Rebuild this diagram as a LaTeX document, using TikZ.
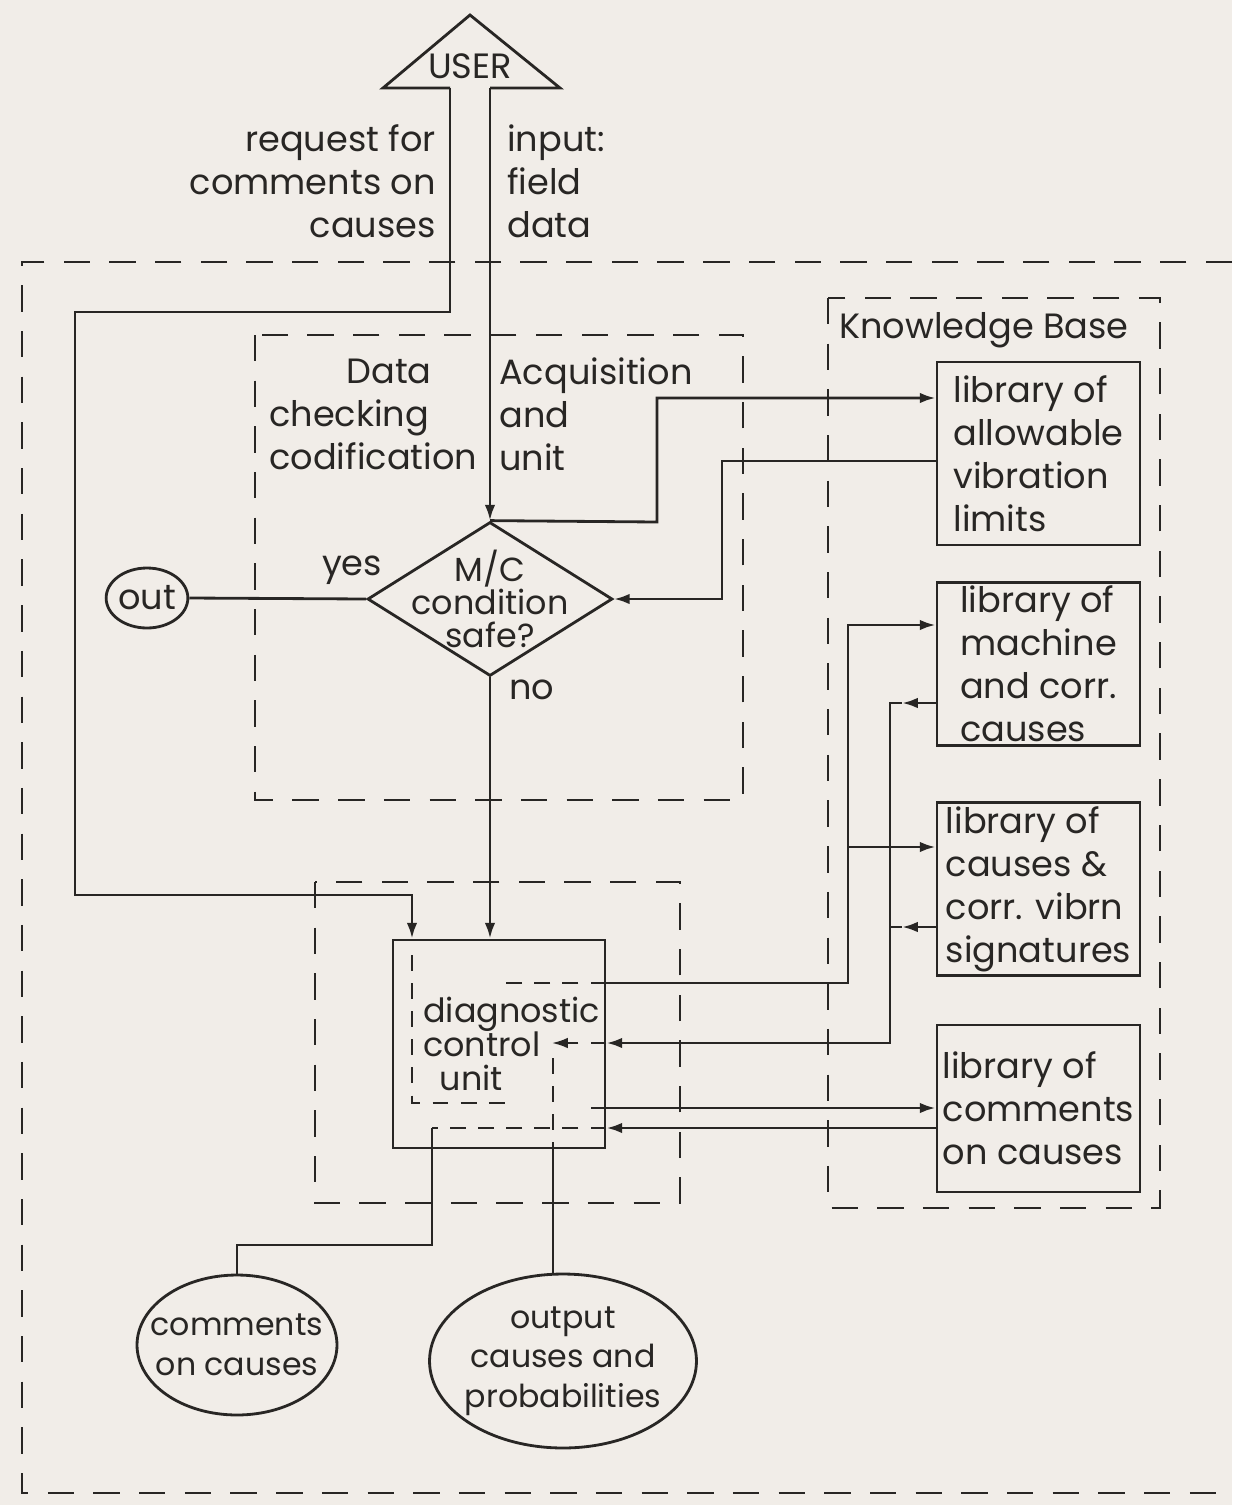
\documentclass[tikz,border=0pt]{standalone}
\usepackage{fontspec}
\setmainfont{Poppins}
\usetikzlibrary{arrows.meta,shapes.geometric,calc}
\definecolor{papier}{RGB}{241,237,232}
\definecolor{encre}{RGB}{40,38,36}

\begin{document}
\begin{tikzpicture}[x=0.02cm,y=-0.02cm,line width=1.6pt,color=encre,
    font=\fontsize{20}{24.5}\selectfont,
    flow/.style={-{Latex[length=9pt,width=6pt]}},
    cadre/.style={dash pattern=on 15pt off 11pt},
    interne/.style={line width=1.2pt,dash pattern=on 9pt off 7pt},
    biblio/.style={draw,minimum width=4.06cm,align=left,inner sep=2pt},
    ovale/.style={draw,ellipse,align=center,inner sep=-12pt,font=\fontsize{18}{22.5}\selectfont}]
  \fill[papier] (0,0) rectangle (1232,1505);
  \useasboundingbox (0,0) rectangle (1232,1505);

  \draw (450,88) -- (383,88) -- (470,15) -- (560,88) -- (490,88);
  \node (user) at (470,66) {USER};
  \coordinate (req) at (450,88);
  \coordinate (inp) at (490,88);

  \draw[cadre] (1232,262) -- (22,262) -- (22,1493) -- (1232,1493);
  \draw[cadre] (255,335) rectangle (743,800);
  \draw[cadre] (828,298) rectangle (1160,1208);
  \draw[cadre] (315,882) rectangle (680,1203);

  \node[anchor=east,align=right] (reqtxt) at (443,181) {request for\\comments on\\causes};
  \node[anchor=west,align=left] (inptxt) at (500,181) {input:\\field\\data};
  \node[anchor=west,align=left] (daqa) at (262,414) {\hspace*{2.2em}Data\\checking\\codification};
  \node[anchor=west,align=left] (daqb) at (492,414) {Acquisition\\and\\unit};
  \node[anchor=west] (kb) at (832,330) {Knowledge Base};

  \node[draw,diamond,minimum width=4.9cm,minimum height=3.08cm,inner sep=0pt] (safe) at (490,599) {};
  \node[align=center,font=\fontsize{19}{19}\selectfont] (safetxt) at (safe) {M/C\\condition\\safe?};
  \node[draw,ellipse,minimum width=1.48cm,minimum height=1.2cm,inner sep=0pt] (out) at (147,598) {out};
  \node[anchor=south] (yes) at (352,592) {yes};
  \node[anchor=west] (no) at (502,690) {no};

  \node[draw,minimum width=4.24cm,minimum height=4.16cm] (diag) at (499,1044) {};
  \node[anchor=west,align=left,font=\fontsize{19}{19.5}\selectfont] (diagtxt) at (416,1044)
        {diagnostic\\control\\\hspace*{0.5em}unit};

  \foreach \n/\y/\h/\t in {1/453.5/3.66/{library of\\allowable\\vibration\\limits},
      2/664/3.24/{library of\\machine\\and corr.\\causes},
      3/889/3.44/{library of\\causes \&\\corr. vibrn\\signatures},
      4/1108.5/3.34/{library of\\comments\\on causes}}
    \node[biblio,minimum height=\h cm] (lib\n) at (1038.5,\y) {\t};

  \node[ovale,minimum width=4cm,minimum height=2.8cm] (comm) at (237,1345) {comments\\on causes};
  \node[ovale,minimum width=5.34cm,minimum height=3.48cm] (outp) at (563,1361) {output\\causes and\\probabilities};

  \draw[flow] (req) |- (75,312) -- (75,895) -| (diag.north -| 412,0);
  \draw[flow] (inp) -- (safe.north);
  \draw[flow] (safe.north) -- (657,522) |- (lib1.west |- 0,398);
  \draw[flow] (lib1.west |- 0,461) -| (722,599) -- (safe.east);
  \draw (safe.west) -- (out.east);
  \draw[flow] (safe.south) -- (safe.south |- diag.north);
  \draw[flow] (diag.east |- 0,983) -| (848,625) -- (lib2.west |- 0,625);
  \draw[flow] (848,847) -- (lib3.west |- 0,847);
  \draw[flow] (lib2.west |- 0,703) -- (902,703);
  \draw[flow] (lib3.west |- 0,927) -- (902,927);
  \draw (902,927) -- (890,927);
  \draw[flow] (902,703) -| (890,1043) -- (diag.east |- 0,1043);
  \draw[flow] (diag.east |- 0,1108) -- (lib4.west |- 0,1108);
  \draw[flow] (lib4.west |- 0,1128) -- (diag.east |- 0,1128);
  \draw (432,1128) |- (237,1245) -- (comm.north);
  \draw (diag.south -| 553,0) -- (outp.north -| 553,0);

  \draw[interne] (412,955) -- (412,1103) -- (510,1103);
  \draw[interne] (diag.east |- 0,983) -- (495,983);
  \draw[interne,flow] (diag.east |- 0,1043) -- (552,1043);
  \draw[interne] (diag.east |- 0,1108) -- (580,1108);
  \draw[interne] (diag.east |- 0,1128) -- (432,1128);
  \draw[interne] (553,1058) -- (diag.south -| 553,0);
\end{tikzpicture}
\end{document}
